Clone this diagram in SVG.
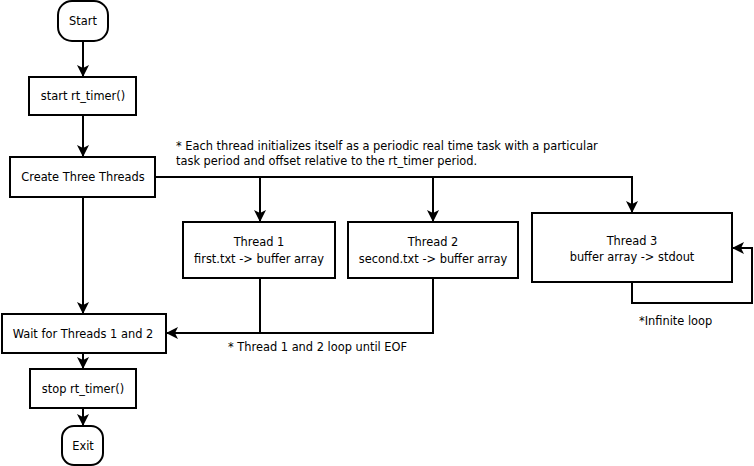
<svg xmlns="http://www.w3.org/2000/svg" width="754" height="466" viewBox="0 0 754 466">
<style>
.n{fill:#fff;stroke:#000;stroke-width:2}
.t{font-family:"DejaVu Sans",Verdana,sans-serif;font-size:11.4px;fill:#000;text-anchor:middle}
.l{font-family:"DejaVu Sans",Verdana,sans-serif;font-size:11.4px;fill:#000}
.c{fill:none;stroke:#000;stroke-width:2;marker-end:url(#a)}
.p{fill:none;stroke:#000;stroke-width:2}
</style>
<defs>
<marker id="a" markerUnits="userSpaceOnUse" markerWidth="12" markerHeight="12" viewBox="0 0 12 12" refX="11" refY="6" orient="auto">
<path d="M0,0 L12,6 L0,12 L3,6 Z" fill="#000"/>
</marker>
</defs>
<rect width="754" height="466" fill="#fff"/>
<g id="connectors">
<path class="c" d="M83,41 V76"/>
<path class="c" d="M83,115 V156"/>
<path class="c" d="M83,197 V313"/>
<path class="c" d="M83,353 V368"/>
<path class="c" d="M83,408 V425"/>
<path class="c" d="M155,177 H632 V212"/>
<path class="c" d="M260,177 V221"/>
<path class="c" d="M433,177 V221"/>
<path class="p" d="M260,278 V333"/>
<path class="c" d="M433,278 V333 H167"/>
<path class="c" d="M632,282 V303 H752 V248 H733"/>
</g>
<g id="start"><rect class="n" x="58" y="1" width="50" height="40" rx="14" ry="14"/><text class="t" x="83" y="25">Start</text></g>
<g id="startTimer"><rect class="n" x="29" y="77" width="107" height="38"/><text class="t" x="83" y="100">start rt_timer()</text></g>
<g id="create"><rect class="n" x="10" y="157" width="145" height="40"/><text class="t" x="83" y="181">Create Three Threads</text></g>
<g id="thread1"><rect class="n" x="183" y="222" width="152" height="56"/><text class="t" x="259" y="246">Thread 1</text><text class="t" x="259" y="263">first.txt -&gt; buffer array</text></g>
<g id="thread2"><rect class="n" x="348" y="222" width="170" height="56"/><text class="t" x="433" y="246">Thread 2</text><text class="t" x="433" y="263">second.txt -&gt; buffer array</text></g>
<g id="thread3"><rect class="n" x="532" y="213" width="200" height="69"/><text class="t" x="632" y="245">Thread 3</text><text class="t" x="632" y="261">buffer array -&gt; stdout</text></g>
<g id="wait"><rect class="n" x="2" y="314" width="164" height="39"/><text class="t" x="83" y="338">Wait for Threads 1 and 2</text></g>
<g id="stopTimer"><rect class="n" x="30" y="369" width="106" height="39"/><text class="t" x="83" y="393">stop rt_timer()</text></g>
<g id="exit"><rect class="n" x="62" y="426" width="41" height="39" rx="12" ry="12"/><text class="t" x="83" y="450">Exit</text></g>
<g id="labels">
<text class="l" x="176" y="150">* Each thread initializes itself as a periodic real time task with a particular</text>
<text class="l" x="176" y="165">task period and offset relative to the rt_timer period.</text>
<text class="l" x="228" y="351">* Thread 1 and 2 loop until EOF</text>
<text class="l" x="639" y="325">*Infinite loop</text>
</g>
</svg>
